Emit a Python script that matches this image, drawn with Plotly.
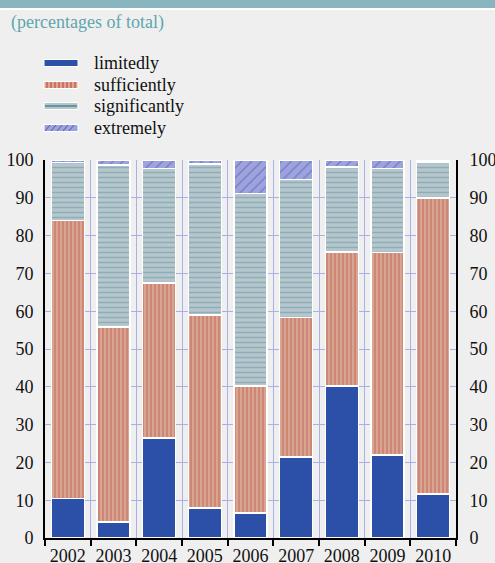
import plotly.graph_objects as go

years = ["2002", "2003", "2004", "2005", "2006", "2007", "2008", "2009", "2010"]
limitedly = [10.5, 4.2, 26.5, 7.9, 6.6, 21.4, 40.2, 21.9, 11.6]
sufficiently = [73.5, 51.6, 41.0, 51.1, 33.6, 36.9, 35.5, 53.6, 78.3]
significantly = [15.3, 42.9, 30.2, 40.0, 51.0, 36.5, 22.5, 22.3, 9.6]
extremely = [0.7, 1.3, 2.3, 1.0, 8.8, 5.2, 1.8, 2.2, 0.5]
series_names = ["limitedly", "sufficiently", "significantly", "extremely"]
y_ticks = [0, 10, 20, 30, 40, 50, 60, 70, 80, 90, 100]
subtitle = "(percentages of total)"

W, H = 495, 563
L, R, T, B = 45, 456, 160, 538
FONT = "'Liberation Serif', 'Times New Roman', 'DejaVu Serif', serif"
GRID = "#aab0e6"
BG = "#efefef"

x = list(range(len(years)))


def px(xp):
    return (xp - L) / (R - L)


def py(yp):
    return (B - yp) / (B - T)


line = dict(color="white", width=1.5)
styles = [
    dict(color="#2c4fa8", line=line),
    dict(color="#d9a593", line=line,
         pattern=dict(shape="|", bgcolor="#d9a593", fgcolor="#b53f2e", size=4, solidity=0.3)),
    dict(color="#b5c7cd", line=line,
         pattern=dict(shape="-", bgcolor="#b5c7cd", fgcolor="#6893a0", size=5, solidity=0.3)),
    dict(color="#9ea3dc", line=line,
         pattern=dict(shape="/", bgcolor="#9ea3dc", fgcolor="#4a58c0", size=7, solidity=0.2)),
]

fig = go.Figure()
for name, vals, st in zip(series_names, [limitedly, sufficiently, significantly, extremely], styles):
    fig.add_trace(go.Bar(x=x, y=vals, name=name, marker=st, showlegend=False))

# invisible trace for right axis
fig.add_trace(go.Scatter(x=[x[0]], y=[0], yaxis="y2", mode="markers",
                         marker=dict(opacity=0), showlegend=False, hoverinfo="skip"))

tickfont = dict(family=FONT, size=18, color="#111111")
fig.update_layout(
    width=W, height=H, autosize=False,
    margin=dict(l=L, r=W - R, t=T, b=H - B, pad=0, autoexpand=False),
    paper_bgcolor=BG, plot_bgcolor=BG,
    barmode="stack", bargap=0.28,
    xaxis=dict(
        range=[-0.5, len(years) - 0.5], tickmode="array", tickvals=x, ticktext=years,
        ticks="", showgrid=False, zeroline=False, showline=True, linecolor="black", linewidth=2,
        tickfont=tickfont, ticklabelstandoff=0, automargin=False,
        minor=dict(tickmode="array", tickvals=[i - 0.5 for i in range(len(years) + 1)],
                   ticks="outside", ticklen=6, tickcolor="black", tickwidth=2,
                   showgrid=True, gridcolor=GRID, gridwidth=1),
    ),
    yaxis=dict(
        range=[0, 100], tickmode="array", tickvals=y_ticks, ticks="", showgrid=True,
        gridcolor=GRID, gridwidth=1, zeroline=False, showline=True, linecolor="black",
        linewidth=2, tickfont=tickfont, ticklabelstandoff=6, automargin=False,
    ),
    yaxis2=dict(
        range=[0, 100], tickmode="array", tickvals=y_ticks, ticks="", overlaying="y",
        side="right", showgrid=False, zeroline=False, showline=True, linecolor="black",
        linewidth=2, tickfont=tickfont, ticklabelstandoff=8, automargin=False,
    ),
    showlegend=False,
)

shapes = []
# top banner
shapes.append(dict(type="rect", xref="paper", yref="paper", x0=px(0), x1=px(W), y0=py(0), y1=py(8),
                   fillcolor="#88b5be", line=dict(width=0), layer="above"))
shapes.append(dict(type="rect", xref="paper", yref="paper", x0=px(0), x1=px(W), y0=py(8), y1=py(10),
                   fillcolor="white", line=dict(width=0), layer="above"))

# custom legend
sx0, sx1 = 44, 78
centers = [63, 85, 106, 128]
hh = 3.5
c = centers[0]
shapes.append(dict(type="rect", xref="paper", yref="paper", x0=px(sx0), x1=px(sx1),
                   y0=py(c + hh), y1=py(c - hh), fillcolor="#2c4fa8", line=dict(color="white", width=1)))
c = centers[1]
shapes.append(dict(type="rect", xref="paper", yref="paper", x0=px(sx0), x1=px(sx1),
                   y0=py(c + hh), y1=py(c - hh), fillcolor="#dca796", line=dict(color="white", width=1)))
xx = sx0 + 3
while xx < sx1 - 1:
    shapes.append(dict(type="line", xref="paper", yref="paper", x0=px(xx), x1=px(xx),
                       y0=py(c + hh - 0.5), y1=py(c - hh + 0.5), line=dict(color="#c0402e", width=1)))
    xx += 4
c = centers[2]
shapes.append(dict(type="rect", xref="paper", yref="paper", x0=px(sx0), x1=px(sx1),
                   y0=py(c + hh), y1=py(c - hh), fillcolor="#b5c7cd", line=dict(color="white", width=1)))
shapes.append(dict(type="line", xref="paper", yref="paper", x0=px(sx0 + 1), x1=px(sx1 - 1),
                   y0=py(c), y1=py(c), line=dict(color="#6893a0", width=2)))
c = centers[3]
shapes.append(dict(type="rect", xref="paper", yref="paper", x0=px(sx0), x1=px(sx1),
                   y0=py(c + hh), y1=py(c - hh), fillcolor="#9ea3dc", line=dict(color="white", width=1)))
xx = sx0 + 1
while xx < sx1 - 5:
    shapes.append(dict(type="line", xref="paper", yref="paper", x0=px(xx), x1=px(xx + 5),
                       y0=py(c + hh - 0.5), y1=py(c - hh + 0.5), line=dict(color="#4a58c0", width=1)))
    xx += 6

annotations = [
    dict(text=subtitle, xref="paper", yref="paper", x=px(9), y=py(22), xanchor="left",
         yanchor="middle", showarrow=False, font=dict(family=FONT, size=18, color="#5ea6ae")),
]
for name, c in zip(series_names, centers):
    annotations.append(dict(text=name, xref="paper", yref="paper", x=px(92), y=py(c),
                            xanchor="left", yanchor="middle", showarrow=False,
                            font=dict(family=FONT, size=18, color="#111111")))

fig.update_layout(shapes=shapes, annotations=annotations)
fig.write_html(
    "out.html",
    config={"displayModeBar": False},
    post_script="document.body.style.margin='0';document.body.style.padding='0';"
                "document.documentElement.style.overflow='hidden';",
)
